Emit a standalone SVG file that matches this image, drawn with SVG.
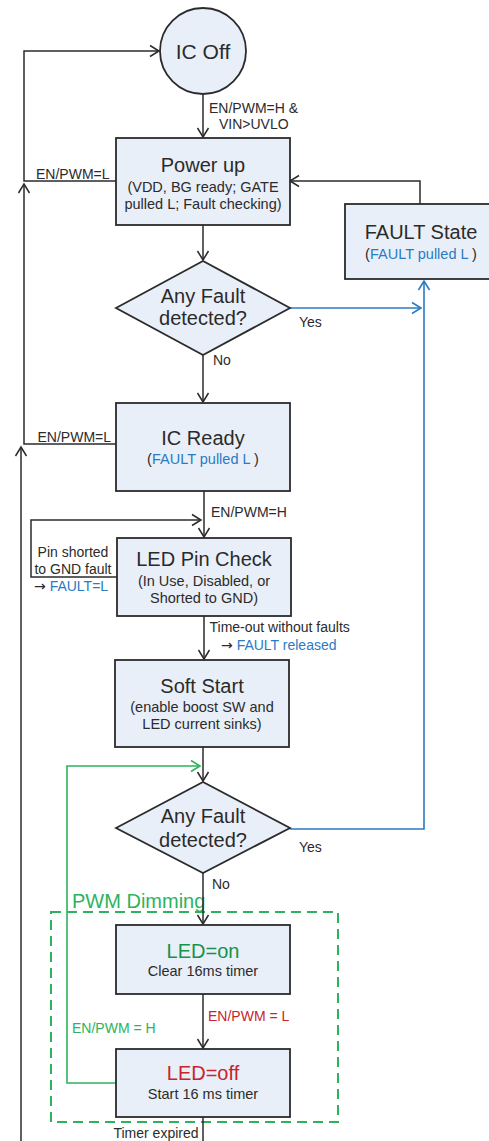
<svg xmlns="http://www.w3.org/2000/svg" width="489" height="1141" viewBox="0 0 489 1141">
<style>
.box{fill:#e9eff8;stroke:#2b2b2b;stroke-width:1.8}
.t{font-family:"Liberation Sans",Arial,sans-serif;fill:#2b2b2b}
.title{font-size:20px}
.sub{font-size:14.5px}
.lbl{font-size:14px}
.blue{fill:#2a7bc4}
.gtxt{fill:#2db35d}
.dgreen{fill:#16924a}
.red{fill:#c8242c}
.arr{font-family:"DejaVu Sans",sans-serif}
.c{fill:none;stroke:#2b2b2b;stroke-width:1.5}
.cb{fill:none;stroke:#2a7bc4;stroke-width:1.6}
.cg{fill:none;stroke:#2db35d;stroke-width:1.6}
</style>
<defs>
<marker id="ak" markerUnits="userSpaceOnUse" markerWidth="14" markerHeight="14" viewBox="-11 -7 13 14" refX="0" refY="0" orient="auto"><path d="M-9,-5.5 L0,0 L-9,5.5" fill="none" stroke="#2b2b2b" stroke-width="1.5"/></marker>
<marker id="ab" markerUnits="userSpaceOnUse" markerWidth="14" markerHeight="14" viewBox="-11 -7 13 14" refX="0" refY="0" orient="auto"><path d="M-9,-5.5 L0,0 L-9,5.5" fill="none" stroke="#2a7bc4" stroke-width="1.6"/></marker>
<marker id="ag" markerUnits="userSpaceOnUse" markerWidth="14" markerHeight="14" viewBox="-11 -7 13 14" refX="0" refY="0" orient="auto"><path d="M-9,-5.5 L0,0 L-9,5.5" fill="none" stroke="#2db35d" stroke-width="1.6"/></marker>
</defs>
<rect x="0" y="0" width="489" height="1141" fill="#ffffff"/>

<g id="pwm-dimming-group">
<rect x="51" y="912" width="287" height="210" fill="none" stroke="#2db35d" stroke-width="2" stroke-dasharray="10 6"/>
<text class="t title gtxt" x="72" y="908" font-size="19">PWM Dimming</text>
</g>

<g id="connectors">
<path class="c" d="M203,95 V137" marker-end="url(#ak)"/>
<path class="c" d="M203,225 V260" marker-end="url(#ak)"/>
<path class="c" d="M203,355 V402" marker-end="url(#ak)"/>
<path class="c" d="M204,491 V537" marker-end="url(#ak)"/>
<path class="c" d="M204,616 V659" marker-end="url(#ak)"/>
<path class="c" d="M203,747 V781" marker-end="url(#ak)"/>
<path class="c" d="M203,873 V924" marker-end="url(#ak)"/>
<path class="c" d="M203,994 V1048" marker-end="url(#ak)"/>
<path class="c" d="M203,1117 V1141"/>
<path class="c" d="M116,181 H24 V51 H159" marker-end="url(#ak)"/>
<path class="c" d="M116,444 H24 V184" marker-end="url(#ak)"/>
<path class="c" d="M21,1141 V447" marker-end="url(#ak)"/>
<path class="c" d="M420,204 V181 H290" marker-end="url(#ak)"/>
<path class="c" d="M118,577 H31 V520 H201" marker-end="url(#ak)"/>
<path class="cb" d="M290,308 H421" marker-end="url(#ab)"/>
<path class="cb" d="M290,829 H424 V281" marker-end="url(#ab)"/>
<path class="cg" d="M116,1083 H67 V766 H200" marker-end="url(#ag)"/>
</g>

<g id="labels">
<text class="t lbl" x="209" y="112.5">EN/PWM=H &amp;</text>
<text class="t lbl" x="219" y="129">VIN&gt;UVLO</text>
<text class="t lbl" x="36" y="179">EN/PWM=L</text>
<text class="t lbl" x="299" y="326.5">Yes</text>
<text class="t lbl" x="213" y="365">No</text>
<text class="t lbl" x="37.5" y="441.5">EN/PWM=L</text>
<text class="t lbl" x="211" y="516.5">EN/PWM=H</text>
<text class="t lbl" x="73" y="556.5" text-anchor="middle">Pin shorted</text>
<text class="t lbl" x="73" y="574" text-anchor="middle">to GND fault</text>
<text class="t lbl" x="34" y="590.5"><tspan class="arr">→</tspan> <tspan class="blue">FAULT=L</tspan></text>
<text class="t lbl" x="209.5" y="631.5">Time-out without faults</text>
<text class="t lbl" x="221" y="650"><tspan class="arr">→</tspan> <tspan class="blue">FAULT released</tspan></text>
<text class="t lbl" x="299" y="851.5">Yes</text>
<text class="t lbl" x="212" y="889">No</text>
<text class="t lbl red" x="208" y="1021">EN/PWM = L</text>
<text class="t lbl gtxt" x="72" y="1033">EN/PWM = H</text>
<text class="t lbl" x="156" y="1138" text-anchor="middle">Timer expired</text>
</g>

<g id="ic-off">
<circle class="box" cx="203" cy="51" r="43"/>
<text class="t" x="203" y="58.5" font-size="21" text-anchor="middle">IC Off</text>
</g>

<g id="power-up">
<rect class="box" x="116" y="138" width="174" height="87"/>
<text class="t title" x="203" y="171.5" text-anchor="middle">Power up</text>
<text class="t sub" x="203" y="192" text-anchor="middle">(VDD, BG ready; GATE</text>
<text class="t sub" x="203" y="209" text-anchor="middle">pulled L; Fault checking)</text>
</g>

<g id="fault-state">
<rect class="box" x="345" y="204" width="152" height="75"/>
<text class="t title" x="421" y="239" text-anchor="middle">FAULT State</text>
<text class="t sub" x="421" y="258.5" text-anchor="middle">(<tspan class="blue">FAULT pulled L </tspan>)</text>
</g>

<g id="fault-check-1">
<polygon class="box" points="116,308 203,261 290,308 203,355"/>
<text class="t title" x="203" y="302.5" text-anchor="middle">Any Fault</text>
<text class="t title" x="203" y="325" text-anchor="middle">detected?</text>
</g>

<g id="ic-ready">
<rect class="box" x="116" y="403" width="174" height="88"/>
<text class="t title" x="203" y="445" text-anchor="middle">IC Ready</text>
<text class="t sub" x="203" y="463.5" text-anchor="middle">(<tspan class="blue">FAULT pulled L </tspan>)</text>
</g>

<g id="led-pin-check">
<rect class="box" x="117" y="538" width="174" height="78"/>
<text class="t title" x="204" y="566" text-anchor="middle">LED Pin Check</text>
<text class="t sub" x="204" y="586" text-anchor="middle">(In Use, Disabled, or</text>
<text class="t sub" x="204" y="603" text-anchor="middle">Shorted to GND)</text>
</g>

<g id="soft-start">
<rect class="box" x="115" y="660" width="174" height="87"/>
<text class="t title" x="202" y="693" text-anchor="middle">Soft Start</text>
<text class="t sub" x="202" y="711.5" text-anchor="middle">(enable boost SW and</text>
<text class="t sub" x="202" y="729" text-anchor="middle">LED current sinks)</text>
</g>

<g id="fault-check-2">
<polygon class="box" points="116,828 203,782 290,828 203,873"/>
<text class="t title" x="203" y="823" text-anchor="middle">Any Fault</text>
<text class="t title" x="203" y="846.5" text-anchor="middle">detected?</text>
</g>

<g id="led-on">
<rect class="box" x="116" y="925" width="174" height="69"/>
<text class="t title dgreen" x="203" y="957.5" text-anchor="middle">LED=on</text>
<text class="t sub" x="203" y="976" text-anchor="middle">Clear 16ms timer</text>
</g>

<g id="led-off">
<rect class="box" x="116" y="1049" width="174" height="68"/>
<text class="t title red" x="203" y="1080" text-anchor="middle">LED=off</text>
<text class="t sub" x="203" y="1099" text-anchor="middle">Start 16 ms timer</text>
</g>
</svg>
